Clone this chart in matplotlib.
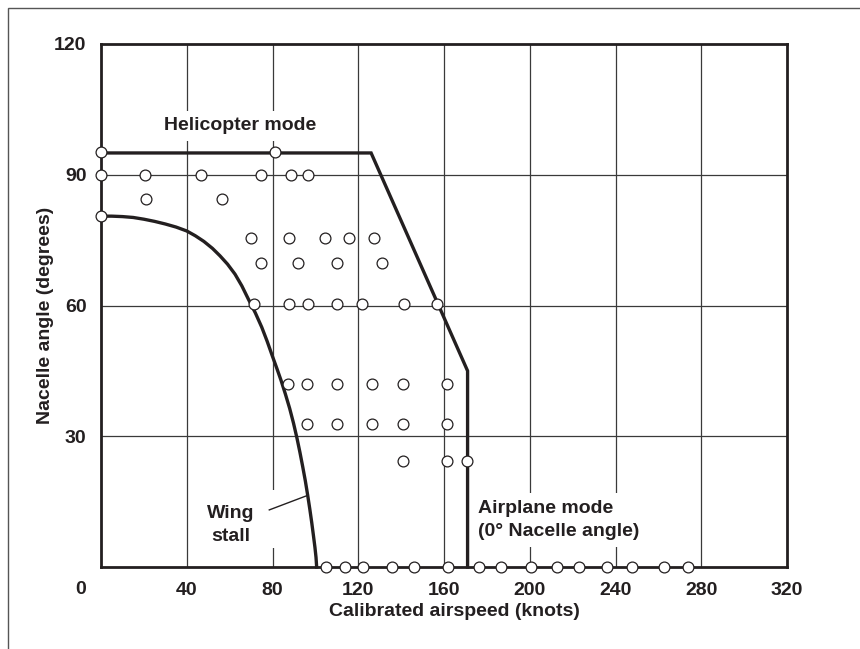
import matplotlib
matplotlib.use("Agg")
import matplotlib.pyplot as plt
from matplotlib.patches import Rectangle

plt.rcParams['font.family'] = ['Liberation Sans', 'DejaVu Sans']
plt.rcParams['font.weight'] = 'bold'

INK = '#231f20'

# ---- data (knots, degrees) ----
x_ticks = [40, 80, 120, 160, 200, 240, 280, 320]
y_ticks = [30, 60, 90, 120]

# conversion corridor boundary (helicopter -> airplane)
corridor_x = [0, 126, 171, 171]
corridor_y = [95, 95, 45, 0]

# wing stall boundary
stall_x = [0, 5, 10, 15, 20, 25, 30, 35, 40, 44, 48, 52, 55.5, 59, 62.5, 65.7,
           68.7, 72, 75, 77.5, 79.8, 82, 84, 86, 88, 89.8, 91.4, 92.8, 94.1,
           95.3, 96.4, 97.4, 98.3, 99.1, 99.8, 100.3, 100.6]
stall_y = [80.5, 80.5, 80.4, 80.2, 79.8, 79.3, 78.7, 78.0, 77.1, 76.0, 74.7,
           73.1, 71.4, 69.5, 67.2, 64.5, 61.5, 58.3, 55.0, 51.8, 48.6, 45.6,
           42.8, 39.7, 36.4, 33.0, 29.6, 26.3, 23.0, 19.8, 16.5, 13.3, 10.2,
           7.2, 4.5, 2.2, 0.0]

# flight test points, row by row
pts_x_95 = [0, 81]
pts_x_90 = [0, 20.5, 46.6, 74.6, 88.6, 96.7]
pts_x_84 = [21.0, 56.6]
pts_x_80 = [0]
pts_x_75 = [70.1, 87.8, 104.6, 115.7, 127.3]
pts_x_70 = [74.8, 91.9, 109.9, 130.9]
pts_x_60 = [71.4, 87.8, 96.5, 109.9, 121.7, 141.2, 156.6]
pts_x_42 = [87.4, 95.9, 109.9, 126.3, 141.0, 161.5]
pts_x_33 = [95.9, 109.9, 126.3, 141.0, 161.5]
pts_x_24 = [141.0, 161.5, 170.8]
pts_x_0 = [104.9, 113.8, 122.0, 135.9, 146.1, 162.0, 176.3, 186.8, 200.6,
           212.8, 223.1, 235.9, 247.5, 262.7, 273.6]
row_angles = [95.3, 90.0, 84.4, 80.5, 75.6, 69.8, 60.3, 42.0, 32.7, 24.3, 0.0]
row_speeds = [pts_x_95, pts_x_90, pts_x_84, pts_x_80, pts_x_75, pts_x_70,
              pts_x_60, pts_x_42, pts_x_33, pts_x_24, pts_x_0]

W, H = 860, 649
fig = plt.figure(figsize=(W / 100, H / 100), dpi=100)
ax = fig.add_axes([101 / W, 1 - 567 / H, 686 / W, 523 / H])
ax.set_xlim(0, 320)
ax.set_ylim(0, 120)

# outer frame of the figure
fig.patches.append(Rectangle((8 / W, -1), 2, 1 + (1 - 8 / H), transform=fig.transFigure,
                             fill=False, edgecolor='#555555', linewidth=1.0))

# grid
for xv in x_ticks[:-1]:
    ax.axvline(xv, color='#3a3a3a', lw=0.9, zorder=1)
for yv in y_ticks[:-1]:
    ax.axhline(yv, color='#3a3a3a', lw=0.9, zorder=1)

for s in ax.spines.values():
    s.set_linewidth(2.0)
    s.set_color(INK)
    s.set_zorder(3)

ax.set_xticks(x_ticks)
ax.set_yticks(y_ticks)
ax.tick_params(length=0, labelsize=14, colors=INK)
ax.tick_params(axis='x', pad=10.5)
ax.tick_params(axis='y', pad=10.5)
for lab in ax.get_xticklabels() + ax.get_yticklabels():
    lab.set_fontweight('bold')

fig.text(81 / W, 1 - 589 / H, '0', ha='center', va='center', fontsize=14,
         fontweight='bold', color=INK)

# boundaries
ax.plot(corridor_x, corridor_y, color=INK, lw=2.4, solid_joinstyle='miter',
        zorder=4, clip_on=False)
ax.plot(stall_x, stall_y, color=INK, lw=2.4, zorder=4, clip_on=False,
        solid_joinstyle='round')

# test points
for ang, speeds in zip(row_angles, row_speeds):
    ax.plot(speeds, [ang] * len(speeds), linestyle='none', marker='o', ms=7.8,
            mfc='white', mec=INK, mew=0.9, zorder=6, clip_on=False)

# white knock-out behind the wing stall label (gap in the 80 kn grid line)
ax.add_patch(Rectangle((76, 4.4), 6, 13.3, facecolor='white', edgecolor='none', zorder=2))

ax.text(64.8, 101.2, 'Helicopter mode', ha='center', va='center', fontsize=14,
        fontweight='bold', color=INK,
        bbox=dict(facecolor='white', edgecolor='none', pad=4.5), zorder=5)
ax.text(60.6, 9.6, 'Wing\nstall', ha='center', va='center', fontsize=14,
        fontweight='bold', color=INK,
        bbox=dict(facecolor='white', edgecolor='none', pad=4), zorder=5, linespacing=1.5)
ax.text(175.7, 10.8, 'Airplane mode\n(0\u00b0 Nacelle angle)', ha='left', va='center',
        fontsize=14, fontweight='bold', color=INK,
        bbox=dict(facecolor='white', edgecolor='none', pad=5), zorder=5, linespacing=1.45)
ax.plot([78.5, 96.2], [13.1, 16.4], color=INK, lw=1.0, zorder=5)

fig.text(454 / W, 1 - 612 / H, 'Calibrated airspeed (knots)', ha='center', va='center',
         fontsize=14, fontweight='bold', color=INK)
fig.text(46 / W, 1 - 315 / H, 'Nacelle angle (degrees)', ha='center', va='center',
         rotation=90, fontsize=14, fontweight='bold', color=INK)

fig.savefig('out.png', dpi=100)
